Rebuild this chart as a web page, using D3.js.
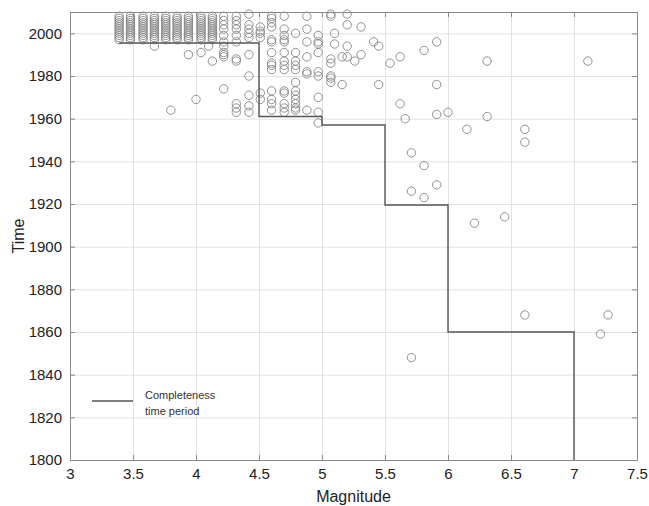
<!DOCTYPE html>
<html>
<head>
<meta charset="utf-8">
<script src="https://cdn.jsdelivr.net/npm/d3@7"></script>
<style>
  body { margin: 0; background: #fff; }
  text { font-family: "Liberation Sans", Arial, sans-serif; }
</style>
</head>
<body>
<div id="chart"></div>
<script>

// events: magnitude column -> list of years
var events = [
  [3.39, [1997, 1998, 1999, 2000, 2001, 2002, 2003, 2004, 2005, 2006, 2007, 2008]],
  [3.48, [1997, 1998, 1999, 2000, 2001, 2002, 2003, 2004, 2005, 2006, 2007, 2008]],
  [3.58, [1997, 1998, 1999, 2000, 2001, 2002, 2003, 2004, 2005, 2006, 2007, 2008]],
  [3.67, [1994, 1997, 1998, 1999, 2000, 2001, 2002, 2003, 2004, 2005, 2006, 2007, 2008]],
  [3.76, [1997, 1998, 1999, 2000, 2001, 2002, 2003, 2004, 2005, 2006, 2007, 2008]],
  [3.80, [1964]],
  [3.85, [1997, 1998, 1999, 2000, 2001, 2002, 2003, 2004, 2005, 2006, 2007, 2008]],
  [3.94, [1990, 1997, 1998, 1999, 2000, 2001, 2002, 2003, 2004, 2005, 2006, 2007, 2008]],
  [4.00, [1969]],
  [4.04, [1991, 1997, 1998, 1999, 2000, 2001, 2002, 2003, 2004, 2005, 2006, 2007, 2008]],
  [4.10, [1994]],
  [4.13, [1987, 1997, 1998, 1999, 2000, 2001, 2002, 2003, 2004, 2005, 2006, 2007, 2008]],
  [4.22, [2008, 2006, 2004, 2002, 1999, 1996, 1994, 1991, 1990, 1989, 1974]],
  [4.32, [2008, 2006, 2004, 2002, 1999, 1996, 1988, 1987, 1967, 1965, 1963]],
  [4.42, [2009, 2004, 2002, 2000, 1998, 1990, 1980, 1971, 1966, 1963]],
  [4.51, [2003, 2001, 2000, 1998, 1972, 1969]],
  [4.60, [2008, 2007, 2005, 2003, 1997, 1996, 1991, 1986, 1985, 1983, 1973, 1969, 1967, 1964]],
  [4.70, [2008, 2002, 1999, 1997, 1996, 1991, 1987, 1985, 1983, 1973, 1972, 1967, 1965, 1963]],
  [4.79, [2000, 1991, 1987, 1985, 1983, 1977, 1973, 1971, 1969, 1967, 1965, 1964]],
  [4.88, [2008, 2002, 1996, 1989, 1982, 1981, 1964]],
  [4.97, [1999, 1996, 1995, 1991, 1982, 1980, 1970, 1963, 1958]],
  [5.07, [2009, 2008, 1988, 1986, 1980, 1979, 1977]],
  [5.10, [2000, 1995]],
  [5.16, [1989, 1976]],
  [5.20, [2009, 2004, 1994, 1989]],
  [5.26, [1987]],
  [5.31, [2003, 1990]],
  [5.41, [1996]],
  [5.45, [1994, 1976]],
  [5.54, [1986]],
  [5.62, [1989, 1967]],
  [5.66, [1960]],
  [5.71, [1944, 1926, 1848]],
  [5.81, [1992, 1938, 1923]],
  [5.91, [1996, 1976, 1962, 1929]],
  [6.00, [1963]],
  [6.15, [1955]],
  [6.21, [1911]],
  [6.31, [1987, 1961]],
  [6.45, [1914]],
  [6.61, [1955, 1949, 1868]],
  [7.11, [1987]],
  [7.21, [1859]],
  [7.27, [1868]]
];

// completeness time period (step after each break)
var stepMags = [3.39, 4.5, 5.0, 5.5, 6.0, 7.0];
var stepYears = [1995.5, 1961, 1957, 1919.5, 1860, 1800];

var xTicks = [3, 3.5, 4, 4.5, 5, 5.5, 6, 6.5, 7, 7.5];
var yTicks = [1800, 1820, 1840, 1860, 1880, 1900, 1920, 1940, 1960, 1980, 2000];

var margin = {top: 12, left: 70, bottom: 46, right: 12};
var width = 649 - margin.left - margin.right;
var height = 506 - margin.top - margin.bottom;

var svg = d3.select("#chart").append("svg")
  .attr("width", 649)
  .attr("height", 506)
  .append("g")
  .attr("transform", "translate(" + margin.left + "," + margin.top + ")");

var x = d3.scaleLinear().domain([3, 7.5]).range([0, width]);
var y = d3.scaleLinear().domain([1800, 2010]).range([height, 0]);

// grid
svg.append("g")
  .attr("class", "grid")
  .attr("transform", "translate(0," + height + ")")
  .call(d3.axisBottom(x).tickValues(xTicks).tickSize(-height).tickFormat(""));
svg.append("g")
  .attr("class", "grid")
  .call(d3.axisLeft(y).tickValues(yTicks).tickSize(-width).tickFormat(""));
svg.selectAll(".grid line").attr("stroke", "#e2e2e2");
svg.selectAll(".grid .domain").remove();

// points
var pts = [];
events.forEach(function(e) {
  e[1].forEach(function(yr) { pts.push({mag: e[0], year: yr}); });
});

svg.selectAll(".ev")
  .data(pts)
  .enter().append("circle")
  .attr("class", "ev")
  .attr("cx", d => x(d.mag))
  .attr("cy", d => y(d.year))
  .attr("r", 4.2)
  .attr("fill", "none")
  .attr("stroke", "#858585")
  .attr("stroke-width", 0.9);

// step line
var stepData = stepMags.map((m, i) => [m, stepYears[i]]);
svg.append("path")
  .datum(stepData)
  .attr("fill", "none")
  .attr("stroke", "#555")
  .attr("stroke-width", 1.4)
  .attr("d", d3.line().x(d => x(d[0])).y(d => y(d[1])).curve(d3.curveStepAfter));

// axes (ticks pointing in, as in the original)
svg.append("g")
  .attr("transform", "translate(0," + height + ")")
  .call(d3.axisBottom(x).tickValues(xTicks).tickSize(-5).tickPadding(8).tickFormat(d3.format("")));
svg.append("g")
  .call(d3.axisLeft(y).tickValues(yTicks).tickSize(-5).tickPadding(8).tickFormat(d3.format("d")));
svg.append("g")
  .call(d3.axisTop(x).tickValues(xTicks).tickSize(-5).tickFormat(""));
svg.append("g")
  .attr("transform", "translate(" + width + ",0)")
  .call(d3.axisRight(y).tickValues(yTicks).tickSize(-5).tickFormat(""));

svg.selectAll(".domain").attr("stroke", "#8a8a8a");
svg.selectAll(".tick line").filter(function() { return !this.closest(".grid"); }).attr("stroke", "#8a8a8a");
svg.selectAll(".tick text")
  .attr("font-size", 15)
  .attr("fill", "#222")
  .style("font-family", "'Liberation Sans', Arial, sans-serif");

// axis titles
svg.append("text")
  .attr("x", width / 2)
  .attr("y", height + 42)
  .attr("text-anchor", "middle")
  .attr("font-size", 16)
  .attr("fill", "#222")
  .text("Magnitude");

svg.append("text")
  .attr("transform", "translate(" + (-46) + "," + (height / 2) + ") rotate(-90)")
  .attr("text-anchor", "middle")
  .attr("font-size", 16)
  .attr("fill", "#222")
  .text("Time");

// legend
var lg = svg.append("g").attr("transform", "translate(22," + 389 + ")");
lg.append("line")
  .attr("x1", 0).attr("x2", 41)
  .attr("y1", 0).attr("y2", 0)
  .attr("stroke", "#555")
  .attr("stroke-width", 1.4);
lg.append("text")
  .attr("x", 53).attr("y", -2)
  .attr("font-size", 11)
  .attr("fill", "#333")
  .text("Completeness");
lg.append("text")
  .attr("x", 53).attr("y", 14)
  .attr("font-size", 11)
  .attr("fill", "#333")
  .text("time period");

</script>
</body>
</html>
